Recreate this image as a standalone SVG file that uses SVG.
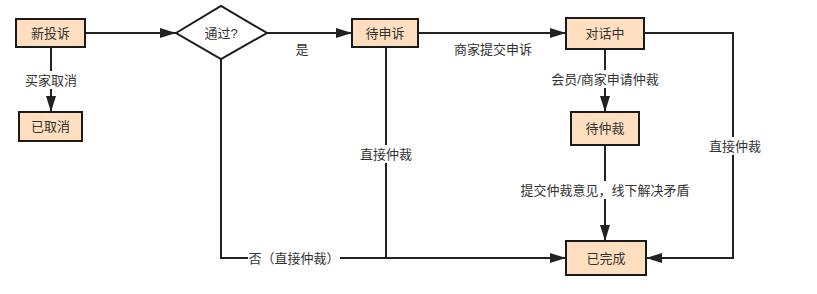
<svg xmlns="http://www.w3.org/2000/svg" width="817" height="294" viewBox="0 0 817 294">
<style>
.box{fill:#ffdfc0;stroke:#1a1a1a;stroke-width:2}
.dia{fill:#ffffff;stroke:#1a1a1a;stroke-width:2}
.t{font-family:"Liberation Sans","Noto Sans CJK SC",sans-serif;font-size:13px;fill:#333;text-anchor:middle;dominant-baseline:central}
.ln{fill:none;stroke:#222;stroke-width:2}
.lb{fill:#fff}
</style>
<defs>
<marker id="ah" viewBox="0 0 16 10" refX="16" refY="5" markerWidth="16" markerHeight="10" markerUnits="userSpaceOnUse" orient="auto">
<path d="M0,0 L16,5 L0,10 Z" fill="#222"/>
</marker>
</defs>
<rect width="817" height="294" fill="#fff"/>
<g id="connectors">
<path class="ln" d="M85,33 H176" marker-end="url(#ah)"/>
<path class="ln" d="M51,47 V112" marker-end="url(#ah)"/>
<rect class="lb" x="24" y="71" width="54" height="18"/>
<text class="t" x="51" y="80">买家取消</text>
<path class="ln" d="M267,33 H352" marker-end="url(#ah)"/>
<text class="t" x="302" y="49">是</text>
<path class="ln" d="M418,33 H566" marker-end="url(#ah)"/>
<text class="t" x="493" y="49">商家提交申诉</text>
<path class="ln" d="M605,49 V112" marker-end="url(#ah)"/>
<rect class="lb" x="549" y="70" width="114" height="18"/>
<text class="t" x="605" y="79">会员/商家申请仲裁</text>
<path class="ln" d="M605,145 V241" marker-end="url(#ah)"/>
<rect class="lb" x="519" y="181" width="172" height="18"/>
<text class="t" x="605" y="190">提交仲裁意见，线下解决矛盾</text>
<path class="ln" d="M644,33 H733 V258 H646" marker-end="url(#ah)"/>
<rect class="lb" x="707" y="137" width="54" height="18"/>
<text class="t" x="735" y="146">直接仲裁</text>
<path class="ln" d="M221,59 V258 H566" marker-end="url(#ah)"/>
<path class="ln" d="M386,47 V258"/>
<rect class="lb" x="248" y="249" width="92" height="18"/>
<text class="t" x="294" y="258">否（直接仲裁）</text>
<rect class="lb" x="359" y="145" width="54" height="18"/>
<text class="t" x="386" y="154">直接仲裁</text>
</g>
<g id="n-new"><rect class="box" x="16" y="19" width="69" height="28"/><text class="t" x="50.5" y="33">新投诉</text></g>
<g id="n-cancel"><rect class="box" x="19" y="112" width="63" height="29"/><text class="t" x="50.5" y="126.5">已取消</text></g>
<g id="n-pass"><polygon class="dia" points="176,33 221,6 267,33 221,59"/><text class="t" x="221" y="33">通过?</text></g>
<g id="n-appeal"><rect class="box" x="352" y="19" width="66" height="28"/><text class="t" x="385" y="33">待申诉</text></g>
<g id="n-talk"><rect class="box" x="566" y="18" width="78" height="31"/><text class="t" x="605" y="33.5">对话中</text></g>
<g id="n-arb"><rect class="box" x="571" y="112" width="68" height="33"/><text class="t" x="605" y="128.5">待仲裁</text></g>
<g id="n-done"><rect class="box" x="566" y="241" width="80" height="34"/><text class="t" x="606" y="258">已完成</text></g>
</svg>
